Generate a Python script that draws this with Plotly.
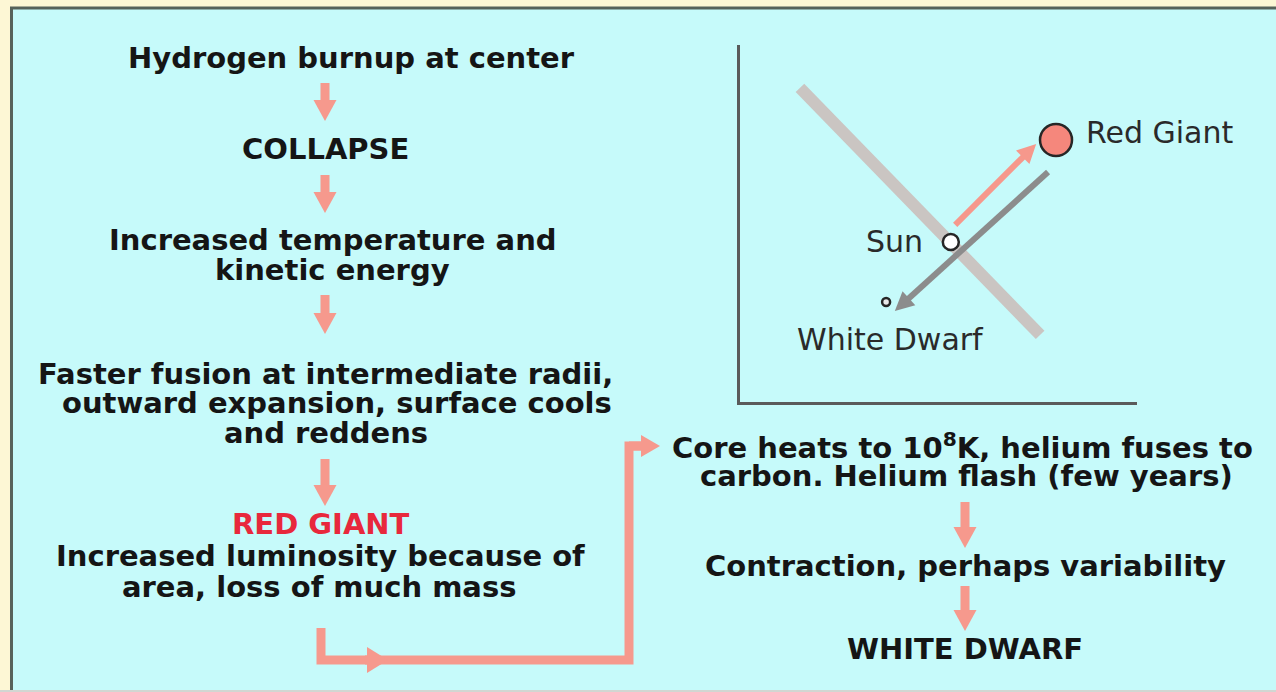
import math
import plotly.graph_objects as go

W, H = 1276, 692

# ---------------- text content ----------------
left_lines = [
    "Hydrogen burnup at center",
    "COLLAPSE",
    "Increased temperature and",
    "kinetic energy",
    "Faster fusion at intermediate radii,",
    "outward expansion, surface cools",
    "and reddens",
    "RED GIANT",
    "Increased luminosity because of",
    "area, loss of much mass",
]
left_is_red = [False, False, False, False, False, False, False, True, False, False]
left_line_x = [351, 325, 333, 332, 325, 337, 326, 321, 320, 319]
left_line_y = [58, 149, 240, 270, 374, 403, 433, 524, 556, 587]

right_lines = [
    "Core heats to 10<sup>8</sup>K, helium fuses to",
    "carbon. Helium flash (few years)",
    "Contraction, perhaps variability",
    "WHITE DWARF",
]
right_line_x = [962, 966, 965, 965]
right_line_y = [446, 476, 566, 649]

# vertical flow arrows (start y -> tip y)
flow_arrow_x = [325, 325, 325, 325, 965, 965]
flow_arrow_y0 = [83, 175, 295, 459, 502, 586]
flow_arrow_y1 = [121, 213, 334, 506, 548, 631]

# connector from the red-giant box to the helium-flash box
conn_x = [321, 321, 629, 629, 642]
conn_y = [628, 660, 660, 446, 446]

# ---------------- inset (HR-style sketch) ----------------
inset_x_range = [0, 10]
inset_y_range = [0, 10]
star_names = ["Red Giant", "Sun", "White Dwarf"]
star_x = [7.96, 5.31, 3.68]
star_y = [7.34, 4.48, 2.80]
star_size = [32, 16, 8]
star_fill = ["#F5877C", "#FFFFFF", "#E8E8E8"]
ms_x = [1.51, 7.56]          # main-sequence band end points
ms_y = [8.80, 1.88]
evo_x0 = [5.42, 7.76]        # evolution arrows: Sun->RG, RG->WD
evo_y0 = [4.96, 6.44]
evo_x1 = [7.46, 3.90]
evo_y1 = [7.23, 2.55]
evo_color = ["#F6988C", "#8C8C8C"]

# ---------------- styling ----------------
PAPER = "#FDF7D5"
PANEL = "#C6FAFA"
BORDER = "#56625A"
SALMON = "#F6998D"
DARK = "#151515"
RED = "#E8283C"
FONT = "DejaVu Sans"

# inset placement (pixels)
IX0, IX1 = 740, 1137
IY_TOP, IY_BOT = 45, 402
sx = (IX1 - IX0) / (inset_x_range[1] - inset_x_range[0])
sy = (IY_BOT - IY_TOP) / (inset_y_range[1] - inset_y_range[0])


def arrow_shapes(x0, y0, x1, y1, color, shaft, head_w, head_l,
                 xref="x", yref="y", kx=1.0, ky=1.0):
    """Shaft + triangular head; geometry computed in pixel space."""
    px0, py0, px1, py1 = x0 * kx, y0 * ky, x1 * kx, y1 * ky
    dx, dy = px1 - px0, py1 - py0
    L = math.hypot(dx, dy)
    ux, uy = dx / L, dy / L
    nx, ny = -uy, ux
    bx, by = px1 - ux * head_l, py1 - uy * head_l
    sbx, sby = bx + ux * 1.5, by + uy * 1.5
    pts = [(px1, py1), (bx + nx * head_w / 2, by + ny * head_w / 2),
           (bx - nx * head_w / 2, by - ny * head_w / 2)]
    path = "M {} Z".format(" L ".join(f"{a / kx:.4f},{b / ky:.4f}" for a, b in pts))
    return [
        dict(type="line", xref=xref, yref=yref, layer="below",
             x0=x0, y0=y0, x1=sbx / kx, y1=sby / ky,
             line=dict(color=color, width=shaft)),
        dict(type="path", xref=xref, yref=yref, layer="below", path=path,
             fillcolor=color, line=dict(width=0)),
    ]


shapes = []
# cyan panel + border
shapes.append(dict(type="rect", xref="x", yref="y", layer="below",
                   x0=11, y0=8, x1=W, y1=690, fillcolor=PANEL, line=dict(width=0)))
shapes.append(dict(type="line", xref="x", yref="y", layer="below",
                   x0=10, y0=8, x1=W, y1=8, line=dict(color=BORDER, width=3)))
shapes.append(dict(type="line", xref="x", yref="y", layer="below",
                   x0=11.5, y0=7, x1=11.5, y1=690, line=dict(color=BORDER, width=3)))
shapes.append(dict(type="line", xref="x", yref="y", layer="below",
                   x0=0, y0=691, x1=W, y1=691, line=dict(color="#D2D6D2", width=2)))

# flow arrows
for xa, ya, yb in zip(flow_arrow_x, flow_arrow_y0, flow_arrow_y1):
    shapes += arrow_shapes(xa, ya, xa, yb, SALMON, 9, 23, 21)

# connector polyline + its arrow heads
conn_path = "M " + " L ".join(f"{a},{b}" for a, b in zip(conn_x, conn_y))
shapes.append(dict(type="path", xref="x", yref="y", layer="below", path=conn_path,
                   fillcolor="rgba(0,0,0,0)", line=dict(color=SALMON, width=9)))
shapes += arrow_shapes(365, conn_y[1], 388, conn_y[1], SALMON, 9, 26, 21)
shapes += arrow_shapes(conn_x[-2], conn_y[-1], 660, conn_y[-1], SALMON, 9, 22, 19)

# inset: main-sequence band + evolution arrows (in inset data units)
shapes.append(dict(type="line", xref="x2", yref="y2", layer="below",
                   x0=ms_x[0], y0=ms_y[0], x1=ms_x[1], y1=ms_y[1],
                   line=dict(color="#CAC5C2", width=12)))
for a, b, c, d, col in zip(evo_x0, evo_y0, evo_x1, evo_y1, evo_color):
    shapes += arrow_shapes(a, b, c, d, col, 6, 19, 19, xref="x2", yref="y2", kx=sx, ky=sy)

fig = go.Figure()

fig.add_trace(go.Scatter(
    x=star_x, y=star_y, mode="markers", xaxis="x2", yaxis="y2",
    marker=dict(size=star_size, color=star_fill, opacity=1,
                line=dict(color="#262626", width=2.5)),
    hoverinfo="skip", showlegend=False))

annotations = []
for txt, xx, yy, red in zip(left_lines, left_line_x, left_line_y, left_is_red):
    annotations.append(dict(text=txt, x=xx, y=yy, xref="x", yref="y", showarrow=False,
                            xanchor="center", yanchor="middle",
                            font=dict(family=FONT, size=29, weight="bold",
                                      color=RED if red else DARK)))
for txt, xx, yy in zip(right_lines, right_line_x, right_line_y):
    annotations.append(dict(text=txt, x=xx, y=yy, xref="x", yref="y", showarrow=False,
                            xanchor="center", yanchor="middle",
                            font=dict(family=FONT, size=29, weight="bold", color=DARK)))

# inset labels
label_anchor = ["left", "right", "center"]
label_dx = [28, -26, 4]
label_dy = [7, 1, -37]
for name, xx, yy, anc, dx, dy in zip(star_names, star_x, star_y, label_anchor, label_dx, label_dy):
    annotations.append(dict(text=name, x=xx, y=yy, xref="x2", yref="y2", showarrow=False,
                            xanchor=anc, yanchor="middle", xshift=dx, yshift=dy,
                            font=dict(family=FONT, size=30, color="#2A2A2A")))

fig.update_layout(
    width=W, height=H,
    margin=dict(l=0, r=0, t=0, b=0),
    paper_bgcolor=PAPER,
    plot_bgcolor="rgba(0,0,0,0)",
    showlegend=False,
    shapes=shapes,
    annotations=annotations,
    xaxis=dict(range=[0, W], domain=[0, 1], visible=False, fixedrange=True),
    yaxis=dict(range=[H, 0], domain=[0, 1], visible=False, fixedrange=True),
    xaxis2=dict(range=inset_x_range, domain=[IX0 / W, IX1 / W], anchor="y2",
                showline=True, linecolor="#5A5A5A", linewidth=3, showgrid=False,
                zeroline=False, showticklabels=False, ticks="", fixedrange=True),
    yaxis2=dict(range=inset_y_range, domain=[1 - IY_BOT / H, 1 - IY_TOP / H], anchor="x2",
                showline=True, linecolor="#5A5A5A", linewidth=3, showgrid=False,
                zeroline=False, showticklabels=False, ticks="", fixedrange=True),
)

fig.write_html(
    "out.html",
    config={"displayModeBar": False},
    post_script="document.body.style.margin='0';document.body.style.overflow='hidden';",
)
